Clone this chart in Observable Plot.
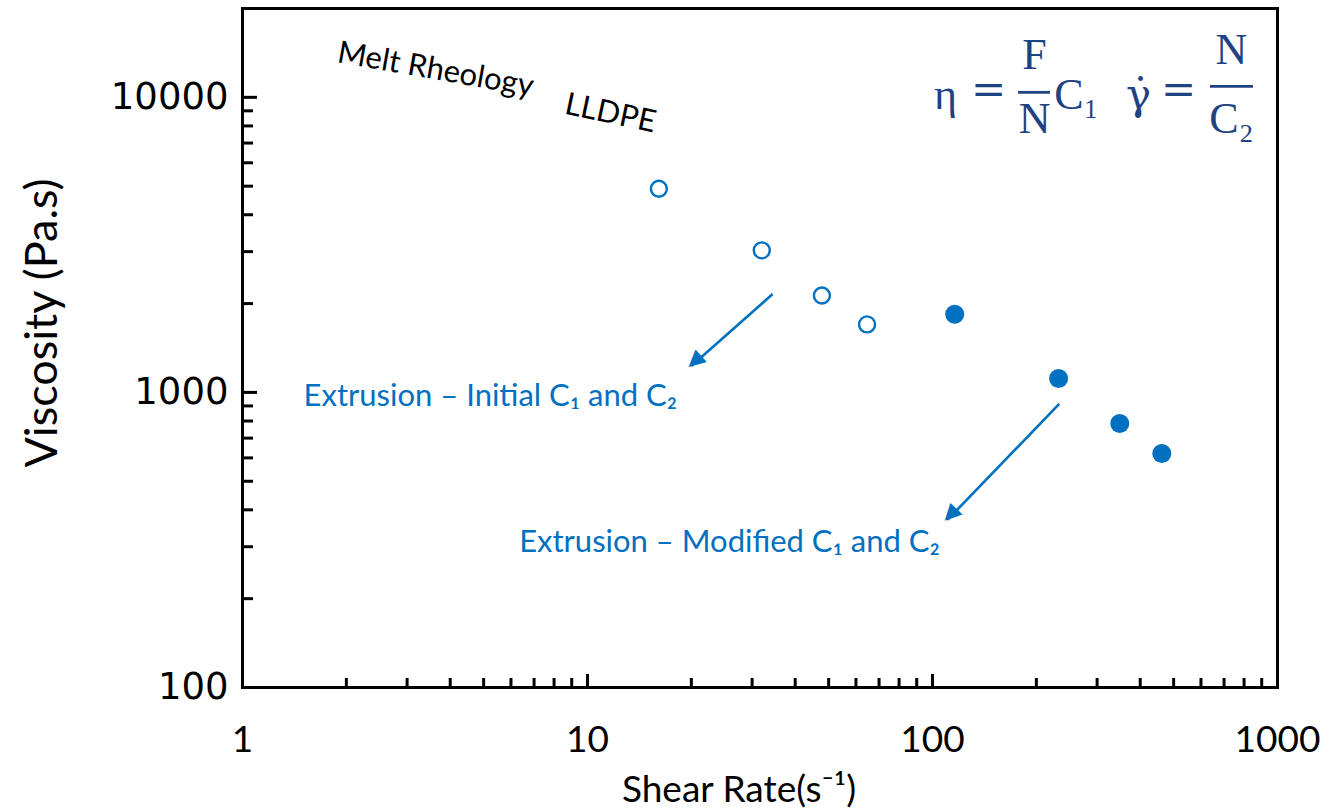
<!DOCTYPE html>
<html><head><meta charset="utf-8">
<script src="https://cdn.jsdelivr.net/npm/d3@7"></script>
<script src="https://cdn.jsdelivr.net/npm/@observablehq/plot@0.6"></script>
<style>html,body{margin:0;padding:0;background:#fff;} #chart svg{display:block;background:#fff}</style>
</head><body><div id="chart"></div>
<script>
// ---- data ----
const initialRate = [16.1, 32.0, 47.8, 64.6];
const initialVisc = [4900, 3030, 2130, 1700];
const modifiedRate = [116, 232, 349, 462];
const modifiedVisc = [1840, 1115, 785, 621];

const xMajorTicks = [1, 10, 100, 1000];
const xMinorTicks = [2,3,4,5,6,7,8,9,20,30,40,50,60,70,80,90,200,300,400,500,600,700,800,900];
const yMajorTicks = [100, 1000, 10000];
const yMinorTicks = [200,300,400,500,600,700,800,900,2000,3000,4000,5000,6000,7000,8000,9000];

const xTitle = "Shear Rate(s\u207B\u00B9)";
const yTitle = "Viscosity (Pa.s)";

const noteLabels = ["Extrusion \u2013 Initial C\u2081 and C\u2082", "Extrusion \u2013 Modified C\u2081 and C\u2082"];
const noteX = [5.23, 25.8];
const noteY = [973, 310];

const arrowX1 = [34.4, 233];
const arrowY1 = [2154, 914];
const arrowX2 = [20.0, 110.5];
const arrowY2 = [1228, 370];
const headX = [20.6, 113.4];
const headY = [1265, 382];
const headAngle = [138, 134];

const titleLabels = ["Melt Rheology", "LLDPE"];
const titleX = [3.63, 11.66];
const titleY = [12440, 8830];
const titleAngle = [10, 12];

// equation pieces: letters (serif), relation signs, fraction bars
const eqParts = ["\u03B7", "C\u2081", "F", "N", "N", "C\u2082"];
const eqX = [109, 261.5, 197.6, 197.6, 735.6, 735.6];
const eqY = [9108, 9108, 12440, 7555, 12934, 7555];
const eqSigns = ["=", "\u03B3\u0307", "="];
const eqSignX = [145.3, 395.4, 516.5];
const eqSignY = [9500, 9108, 9500];
const fracX1 = [177.6, 639.3];
const fracX2 = [219.8, 851.8];
const fracY = [10397, 10894];

// ---- build ----
const blue = "#0070C0";
const eqBlue = "#1F4283";
const calibri = "Lato, 'Open Sans', sans-serif";
const idx = a => a.map((_, i) => i);

const marks = [
  Plot.dot(idx(initialRate), {x: i => initialRate[i], y: i => initialVisc[i], r: 8, stroke: blue, strokeWidth: 2.4, fill: "white"}),
  Plot.dot(idx(modifiedRate), {x: i => modifiedRate[i], y: i => modifiedVisc[i], r: 9.5, fill: blue, stroke: "none"}),
  Plot.link(idx(arrowX1), {x1: i => arrowX1[i], y1: i => arrowY1[i], x2: i => arrowX2[i], y2: i => arrowY2[i], stroke: blue, strokeWidth: 2.6}),
  Plot.text(idx(headX), {x: i => headX[i], y: i => headY[i], text: () => "\u25B6", rotate: i => headAngle[i], fill: blue, fontSize: 22, fontFamily: "DejaVu Sans", textAnchor: "middle", lineAnchor: "middle"}),
  Plot.text(idx(noteLabels), {x: i => noteX[i], y: i => noteY[i], text: i => noteLabels[i], fill: blue, fontSize: 31, fontFamily: calibri, textAnchor: "middle", lineAnchor: "middle"}),
  Plot.text(idx(titleLabels), {x: i => titleX[i], y: i => titleY[i], text: i => titleLabels[i], rotate: i => titleAngle[i], fill: "black", fontSize: 31, fontFamily: calibri, textAnchor: "middle", lineAnchor: "middle"}),
  Plot.text(idx(eqParts), {x: i => eqX[i], y: i => eqY[i], text: i => eqParts[i], fill: eqBlue, fontSize: 44, fontFamily: "'Liberation Serif', 'DejaVu Serif', serif", textAnchor: "middle", lineAnchor: "bottom"}),
  Plot.text(idx(eqSigns), {x: i => eqSignX[i], y: i => eqSignY[i], text: i => eqSigns[i], fill: eqBlue, fontSize: 42, fontFamily: "'DejaVu Serif', serif", textAnchor: "middle", lineAnchor: "bottom"}),
  Plot.ruleY(idx(fracY), {y: i => fracY[i], x1: i => fracX1[i], x2: i => fracX2[i], stroke: eqBlue, strokeWidth: 2.8}),
  // tick labels
  Plot.text(xMajorTicks, {x: d => d, frameAnchor: "bottom", dy: 53, text: d => String(d), fontSize: 37, fontFamily: calibri, fill: "black", textAnchor: "middle", lineAnchor: "middle"}),
  Plot.text(yMajorTicks, {y: d => d, frameAnchor: "left", dx: -14, text: d => String(d), fontSize: 37, fontFamily: "'DejaVu Sans', Verdana, sans-serif", fill: "black", textAnchor: "end", lineAnchor: "middle"}),
  // axis titles
  Plot.text([xTitle], {frameAnchor: "bottom", dx: -21, dy: 103, text: d => d, fontSize: 37, fontFamily: calibri, fill: "black", textAnchor: "middle", lineAnchor: "middle"}),
  Plot.text([yTitle], {frameAnchor: "left", dx: -200, dy: -25, rotate: -90, text: d => d, fontSize: 45, fontFamily: calibri, fill: "black", textAnchor: "middle", lineAnchor: "middle"})
];

const hasAxisMarks = typeof Plot.axisX === "function";
if (hasAxisMarks) {
  marks.unshift(
    Plot.axisX(xMinorTicks, {anchor: "bottom", tickSize: -9, tickFormat: () => "", strokeWidth: 3, label: null}),
    Plot.axisX(xMajorTicks, {anchor: "bottom", tickSize: -13, tickFormat: () => "", strokeWidth: 3, label: null}),
    Plot.axisY(yMinorTicks, {anchor: "left", tickSize: -11, tickFormat: () => "", strokeWidth: 3, label: null}),
    Plot.axisY(yMajorTicks, {anchor: "left", tickSize: -15, tickFormat: () => "", strokeWidth: 3, label: null})
  );
}
marks.push(Plot.frame({stroke: "black", strokeWidth: 3}));

const chart = Plot.plot({
  width: 1335,
  height: 812,
  marginLeft: 242,
  marginRight: 58,
  marginTop: 8,
  marginBottom: 125,
  style: {background: "white", overflow: "visible"},
  x: {type: "log", domain: [1, 1000], axis: hasAxisMarks ? null : "bottom", ticks: [...xMajorTicks, ...xMinorTicks], tickFormat: () => "", tickSize: -10, label: null},
  y: {type: "log", domain: [100, 20000], axis: hasAxisMarks ? null : "left", ticks: [...yMajorTicks, ...yMinorTicks], tickFormat: () => "", tickSize: -10, label: null},
  marks
});
document.getElementById("chart").appendChild(chart);
</script>
</body></html>
